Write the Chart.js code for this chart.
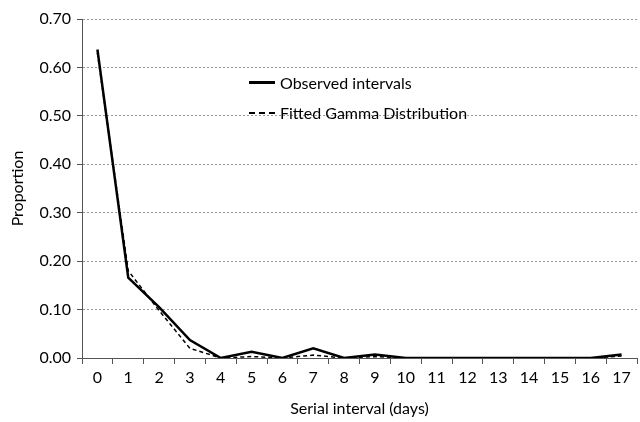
<!DOCTYPE html>
<html>
<head>
<meta charset="utf-8">
<script src="https://cdn.jsdelivr.net/npm/chart.js@4"></script>
<style>
  html, body { margin: 0; padding: 0; background: #fff; }
  #wrap { position: relative; width: 640px; height: 422px; }
  .legend { position: absolute; left: 249px; font: 16px Lato, "Open Sans", sans-serif; color: #000; display: flex; align-items: center; }
  .legend .sw { width: 26px; margin-right: 5px; }
</style>
</head>
<body>
<div id="wrap">
  <canvas id="chart" width="640" height="422"></canvas>
  <div class="legend" style="top:73px"><span class="sw" style="border-top:3px solid #000"></span>Observed intervals</div>
  <div class="legend" style="top:103px"><span class="sw" style="border-top:2px dashed #000"></span>Fitted Gamma Distribution</div>
</div>
<script>
// serial interval in days
const days = ['0','1','2','3','4','5','6','7','8','9','10','11','12','13','14','15','16','17'];
const observed = [0.637, 0.166, 0.105, 0.037, 0.000, 0.013, 0.000, 0.020, 0.000, 0.007, 0.000, 0.000, 0.000, 0.000, 0.000, 0.000, 0.000, 0.007];
const fitted   = [0.630, 0.180, 0.098, 0.020, 0.000, 0.003, 0.000, 0.006, 0.000, 0.003, 0.000, 0.000, 0.000, 0.000, 0.000, 0.000, 0.000, 0.004];

const font = { family: 'Lato, "Open Sans", sans-serif', size: 16 };

new Chart(document.getElementById('chart'), {
    type: 'line',
    data: {
        labels: days,
        datasets: [{
            label: 'Observed intervals',
            data: observed,
            borderColor: '#000',
            borderWidth: 2.5,
            pointRadius: 0,
            tension: 0
        }, {
            label: 'Fitted Gamma Distribution',
            data: fitted,
            borderColor: '#000',
            borderWidth: 1.5,
            borderDash: [4, 3],
            pointRadius: 0,
            tension: 0
        }]
    },
    options: {
        responsive: false,
        animation: false,
        layout: { padding: { top: 19, right: 3, left: 4, bottom: 0 } },
        plugins: {
            legend: { display: false },
            tooltip: { enabled: false }
        },
        scales: {
            x: {
                offset: true,
                grid: {
                    offset: true,
                    drawOnChartArea: false,
                    drawTicks: true,
                    tickLength: 6,
                    color: '#555'
                },
                border: { color: '#555', width: 1 },
                ticks: { color: '#000', font: font, maxRotation: 0, autoSkip: false, padding: 4 },
                title: { display: true, text: 'Serial interval (days)', color: '#000', font: font, padding: { top: 5 } },
                afterFit: axis => { axis.height = 64; }
            },
            y: {
                min: 0,
                max: 0.7,
                ticks: {
                    stepSize: 0.1,
                    color: '#000',
                    font: font,
                    padding: 6,
                    callback: v => v.toFixed(2)
                },
                grid: {
                    color: '#999',
                    tickLength: 5,
                    tickColor: '#555',
                    tickBorderDash: []
                },
                border: { color: '#555', width: 1, dash: [2, 2] },
                title: { display: true, text: 'Proportion', color: '#000', font: font, padding: { bottom: 4 } },
                afterFit: axis => { axis.width = 78; }
            }
        }
    }
});
</script>
</body>
</html>
